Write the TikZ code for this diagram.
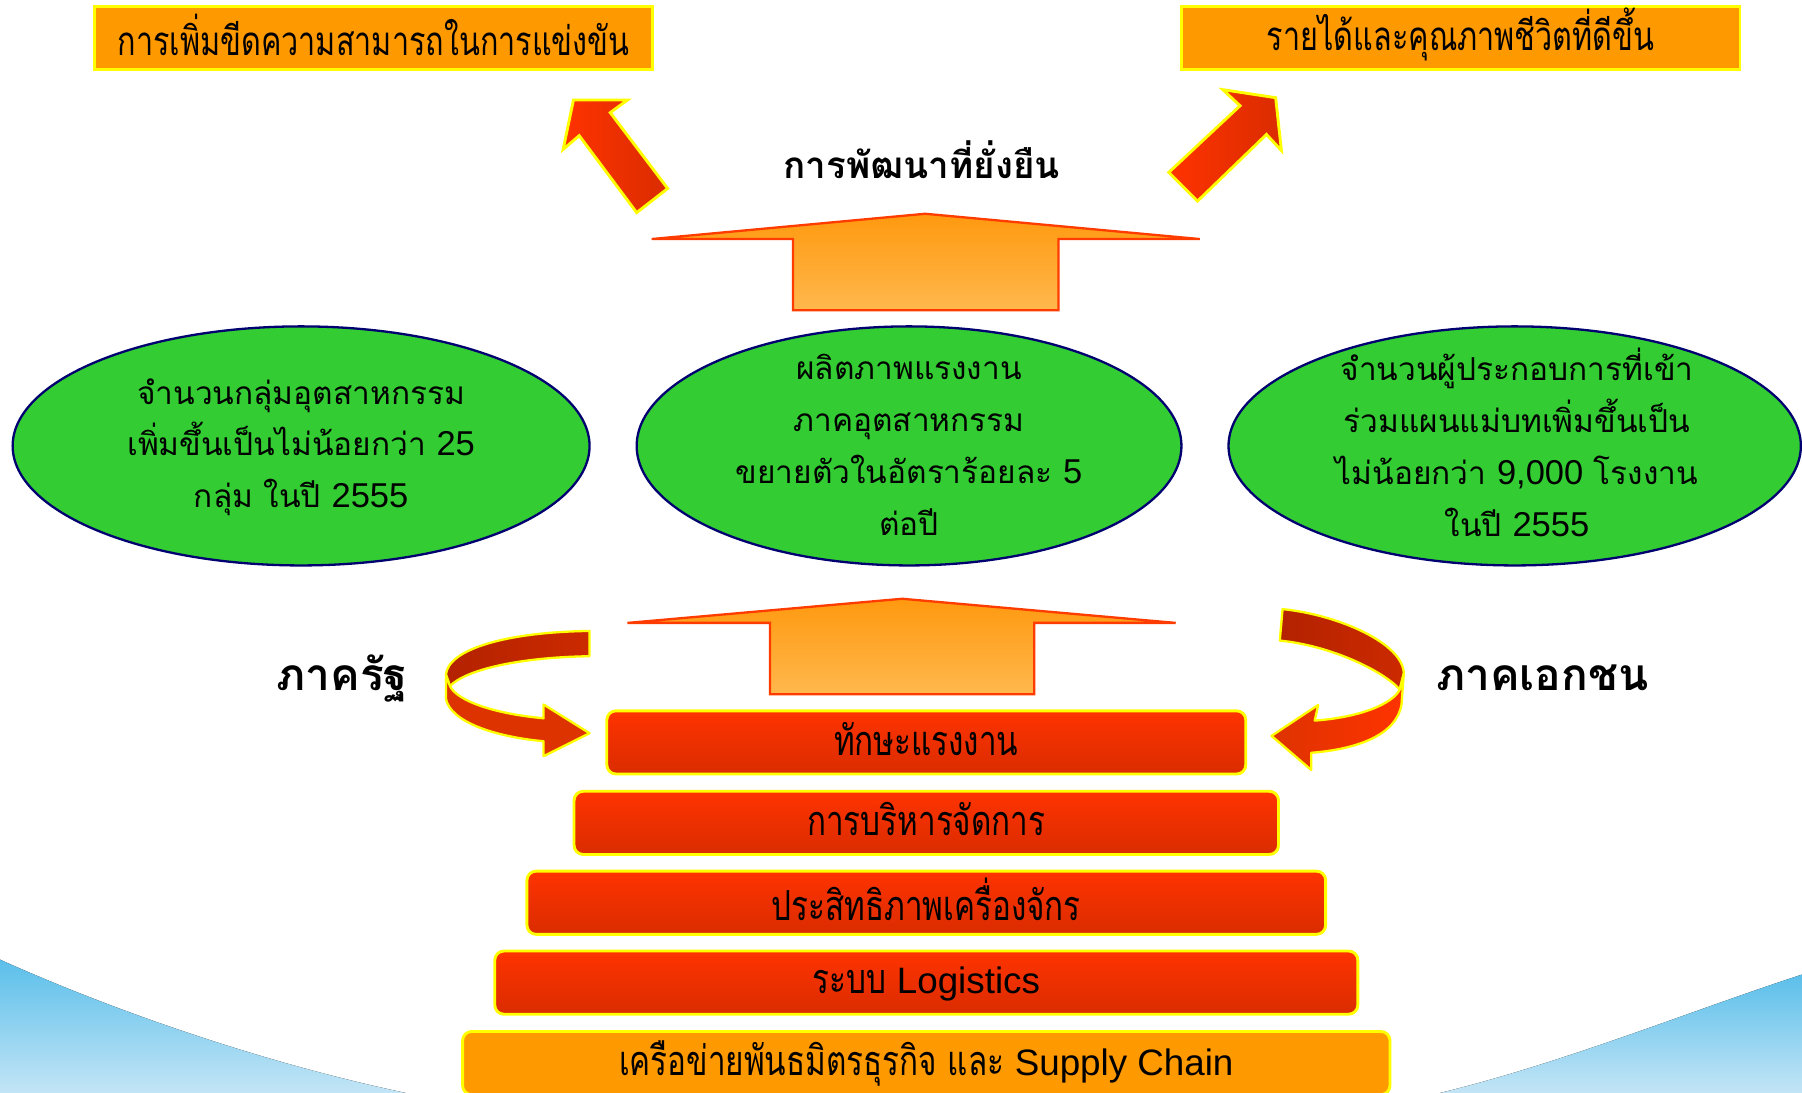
\documentclass[tikz,border=0pt]{standalone}
\usepackage{fontspec}
\setmainfont{Liberation Sans}
\newfontfamily\thaifont[Script=Thai]{Loma}
\newfontfamily\thainarrow[Script=Thai,FakeStretch=0.76]{Loma}
\usetikzlibrary{shapes.geometric}

\definecolor{boxorange}{HTML}{FF9900}
\definecolor{edgeyellow}{HTML}{FFFF00}
\definecolor{redtop}{HTML}{FF3300}
\definecolor{redbot}{HTML}{DA2C00}
\definecolor{ovalgreen}{HTML}{33CC33}
\definecolor{ovalnavy}{HTML}{000070}
\definecolor{bigtop}{HTML}{FF990F}
\definecolor{bigbot}{HTML}{FFB84D}
\definecolor{bigedge}{HTML}{FF3C00}
\definecolor{skytop}{HTML}{5BBFEA}
\definecolor{skybot}{HTML}{C3E5F6}
\definecolor{banddark}{HTML}{B32200}
\definecolor{bandmid}{HTML}{CC2A00}
\definecolor{bandlow}{HTML}{DD3300}

\newcommand{\latbox}[1]{{\normalfont\fontsize{32}{36}\selectfont #1}}
\newcommand{\latoval}[1]{{\normalfont\fontsize{30}{45}\selectfont #1}}

\tikzset{
  goalbox/.style={draw=edgeyellow, line width=2.5pt, fill=boxorange,
    minimum width=486pt, minimum height=55pt, inner sep=0pt},
  goallabel/.style={inner sep=0pt, font=\thainarrow\fontsize{35}{38}\selectfont},
  stepbar/.style={draw=edgeyellow, line width=2.5pt, rounded corners=8pt,
    top color=redtop, bottom color=redbot, minimum height=55pt, inner sep=0pt},
  basebar/.style={stepbar, top color=boxorange, bottom color=boxorange},
  barlabel/.style={inner sep=0pt, font=\thainarrow\fontsize{36}{38}\selectfont},
  oval/.style={ellipse, draw=ovalnavy, line width=2pt, fill=ovalgreen,
    inner sep=0pt, minimum height=208pt},
  ovaltext/.style={align=center, inner sep=0pt,
    font=\thaifont\fontsize{27.5}{45}\selectfont},
  bigarrow/.style={draw=bigedge, line width=2pt, top color=bigtop, bottom color=bigbot, line join=miter},
  diagarrow/.style={draw=edgeyellow, line width=2.5pt, left color=redtop, right color=redbot, line join=miter},
  bandedge/.style={draw=edgeyellow, line width=2pt, line join=round},
  sidelabel/.style={font=\thaifont\bfseries\fontsize{38.5}{42}\selectfont, inner sep=0pt},
}

\begin{document}
\begin{tikzpicture}[x=1pt, y=-1pt]
\useasboundingbox (0,0) rectangle (1568,951);
\clip (0,0) rectangle (1568,951);
\fill[white] (0,0) rectangle (1568,951);

% blue background curves
\fill[top color=skytop, bottom color=skybot] (0,835) .. controls (100,880) and (230,925) .. (353,951) -- (0,951) -- cycle;
\fill[top color=skytop, bottom color=skybot] (1568,848) .. controls (1470,880) and (1360,925) .. (1253,951) -- (1568,951) -- cycle;

% goal boxes
\node[goalbox] (goalL) at (325,33) {};
\node[goallabel] (goalLt) at ([yshift=3pt]goalL.center) {การเพิ่มขีดความสามารถในการแข่งขัน};
\node[goalbox] (goalR) at (1271,33) {};
\node[goallabel] (goalRt) at ([yshift=3pt]goalR.center) {รายได้และคุณภาพชีวิตที่ดีขึ้น};

% diagonal arrows
\draw[diagarrow] (499,87) -- (546,87) -- (531,98) -- (581,164) -- (554,185) -- (504,118) -- (490,130) -- cycle;
\draw[diagarrow] (1110,85) -- (1115,131) -- (1102,117) -- (1042,175) -- (1017,150) -- (1079,92) -- (1064,78) -- cycle;

% title
\node[font=\thaifont\bfseries\fontsize{32}{36}\selectfont, inner sep=0pt] (title) at (802,139) {การพัฒนาที่ยั่งยืน};

% upper big arrow
\draw[bigarrow] (805,186) -- (1044,208) -- (921,208) -- (921,270) -- (690,270) -- (690,208) -- (567,208) -- cycle;

% ellipses
\node[oval, minimum width=502pt] (ovalL) at (262,388) {};
\node[oval, minimum width=474pt] (ovalM) at (791,388) {};
\node[oval, minimum width=498pt] (ovalR) at (1318,388) {};
\node[ovaltext] (txtL) at ([yshift=-1pt]ovalL.center) {จำนวนกลุ่มอุตสาหกรรม\\เพิ่มขึ้นเป็นไม่น้อยกว่า \latoval{25}\\กลุ่ม ในปี \latoval{2555}};
\node[ovaltext] (txtM) at ([yshift=1pt]ovalM.center) {ผลิตภาพแรงงาน\\ภาคอุตสาหกรรม\\ขยายตัวในอัตราร้อยละ \latoval{5}\\ต่อปี};
\node[ovaltext] (txtR) at ([xshift=2pt,yshift=3pt]ovalR.center) {จำนวนผู้ประกอบการที่เข้า\\ร่วมแผนแม่บทเพิ่มขึ้นเป็น\\ไม่น้อยกว่า \latoval{9,000} โรงงาน\\ในปี \latoval{2555}};

% lower big arrow
\draw[bigarrow] (785,521) -- (1023,542) -- (900,542) -- (900,604) -- (670,604) -- (670,542) -- (546,542) -- cycle;

% side labels
\node[sidelabel] (gov) at (298,590) {ภาครัฐ};
\node[sidelabel] (priv) at (1342,590) {ภาคเอกชน};

% left curved arrow
\draw[bandedge, left color=banddark, right color=bandmid]
  (513,549) .. controls (440,550) and (390,565) .. (388,587) -- (391.5,597)
  .. controls (405,583) and (450,572) .. (513,571) -- cycle;
\draw[bandedge, left color=bandlow, right color=bandlow]
  (388,587) -- (388,608) .. controls (392,628) and (430,641) .. (473,645)
  -- (473,658) -- (513,638) -- (473,613) -- (473,625)
  .. controls (430,621) and (398,610) .. (391.5,597) -- cycle;

% right curved arrow
\draw[bandedge, left color=banddark, right color=bandmid]
  (1116,530) .. controls (1165,535) and (1221,560) .. (1221.5,586) -- (1218,600)
  .. controls (1205,585) and (1160,562) .. (1113.6,557.4) -- cycle;
\draw[bandedge, left color=bandlow, right color=redtop]
  (1221.5,586) -- (1219.5,613) .. controls (1215,640) and (1180,652) .. (1141,655)
  -- (1141,670) -- (1106.4,640.3) -- (1147,613.4) -- (1144,627)
  .. controls (1185,624) and (1212,612) .. (1218,600) -- cycle;

% step bars
\node[stepbar, minimum width=556pt] (bar1) at (806,646) {};
\node[stepbar, minimum width=613pt] (bar2) at (806,716) {};
\node[stepbar, minimum width=695pt] (bar3) at (806,785.5) {};
\node[stepbar, minimum width=751pt] (bar4) at (806,855) {};
\node[basebar, minimum width=807pt] (bar5) at (806,925) {};
\node[barlabel] (lab1) at ([yshift=3pt]bar1.center) {ทักษะแรงงาน};
\node[barlabel] (lab2) at ([yshift=3pt]bar2.center) {การบริหารจัดการ};
\node[barlabel] (lab3) at ([yshift=3pt]bar3.center) {ประสิทธิภาพเครื่องจักร};
\node[barlabel] (lab4) at ([yshift=-1pt]bar4.center) {ระบบ \latbox{Logistics}};
\node[barlabel] (lab5) at (bar5.center) {เครือข่ายพันธมิตรธุรกิจ และ \latbox{Supply Chain}};
\end{tikzpicture}
\end{document}
